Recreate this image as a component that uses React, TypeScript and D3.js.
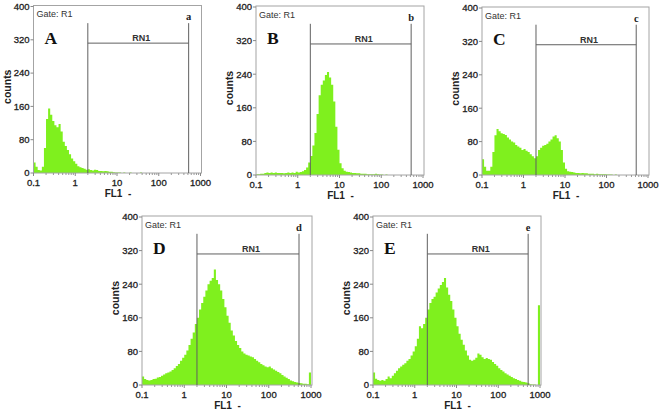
import React from 'react';
import * as d3 from 'd3';

// ---- data (counts per 1/20-decade channel group, 0.1 .. 1000) ----
const BINS_PER_DECADE = 20;
const xTicks = [0.1, 1, 10, 100, 1000];
const xTickLabels = ['0.1', '1', '10', '100', '1000'];
const yTicks = [0, 80, 160, 240, 320, 400];
const gateRange = [2, 520];
const gateTop = 360;
const gateBar = 312;
const panelLetters = ['A', 'B', 'C', 'D', 'E'];
const gateLetters = ['a', 'b', 'c', 'd', 'e'];

const countsA = [
  25, 15, 7, 6, 15, 60, 130, 155, 140, 125,
  115, 110, 118, 100, 75, 65, 55, 45, 35, 28,
  22, 16, 14, 12, 10, 8, 9, 7, 6, 8,
  7, 5, 5, 4, 5, 4, 3, 3, 2, 1,
  1, 1, 0, 1, 0, 0, 1, 0, 0, 0,
  0, 1, 0, 0, 0, 0, 0, 0, 0, 0,
  0, 0, 0, 0, 0, 0, 0, 0, 0, 0,
  0, 0, 0, 0, 0, 0, 0, 0, 0, 0,
];
const countsB = [
  2, 2, 3, 3, 5, 6, 5, 6, 5, 6,
  5, 5, 5, 4, 5, 6, 5, 6, 5, 8,
  6, 7, 9, 12, 18, 30, 45, 70, 100, 145,
  190, 215, 225, 238, 245, 232, 215, 175, 115, 60,
  28, 16, 10, 8, 7, 6, 5, 5, 4, 4,
  3, 3, 3, 2, 2, 2, 2, 3, 2, 1,
  1, 0, 1, 0, 0, 0, 0, 0, 0, 0,
  0, 0, 0, 0, 0, 0, 0, 0, 0, 0,
];
const countsC = [
  38, 20, 10, 10, 20, 55, 95, 110, 105, 100,
  98, 96, 90, 85, 80, 78, 72, 68, 65, 60,
  62, 58, 55, 50, 45, 40, 45, 60, 65, 70,
  72, 75, 80, 85, 92, 95, 88, 80, 60, 30,
  15, 9, 8, 7, 6, 5, 5, 4, 5, 4,
  4, 3, 3, 3, 2, 3, 2, 2, 2, 2,
  1, 1, 1, 0, 1, 0, 0, 0, 0, 0,
  0, 0, 0, 0, 0, 0, 0, 0, 0, 0,
];
const countsD = [
  20, 14, 12, 11, 12, 14, 15, 18, 19, 22,
  25, 28, 30, 32, 36, 40, 45, 50, 58, 65,
  72, 82, 95, 110, 125, 145, 160, 180, 195, 210,
  225, 240, 248, 255, 275, 250, 240, 225, 205, 185,
  165, 148, 130, 118, 105, 95, 88, 80, 75, 72,
  70, 68, 66, 62, 58, 54, 50, 47, 44, 42,
  44, 40, 37, 34, 31, 28, 24, 20, 17, 14,
  11, 9, 7, 6, 5, 4, 3, 3, 2, 30,
];
const countsE = [
  30, 15, 12, 10, 12, 10, 14, 20, 16, 22,
  28, 34, 40, 44, 48, 52, 58, 62, 70, 80,
  92, 110, 140, 135, 145, 160, 180, 195, 205, 210,
  220, 230, 238, 245, 255, 232, 215, 200, 180, 160,
  140, 122, 108, 96, 82, 70, 60, 58, 60, 65,
  75, 72, 66, 62, 64, 62, 60, 55, 50, 46,
  40, 36, 32, 28, 25, 22, 19, 16, 14, 12,
  10, 8, 7, 6, 4, 2, 1, 1, 0, 190,
];

// ---- layout ----
const layouts = [
  { x0: 33.5, x1: 200.5, yTop: 6.5, yBase: 173 },
  { x0: 256, x1: 423, yTop: 7, yBase: 175 },
  { x0: 482, x1: 648, yTop: 8, yBase: 175 },
  { x0: 142, x1: 311, yTop: 217, yBase: 385 },
  { x0: 373, x1: 540, yTop: 217, yBase: 385 },
];

const GREEN = '#7ff01e';
const SANS = "'Liberation Sans', Arial, sans-serif";
const SERIF = "'Liberation Serif', 'Times New Roman', serif";

function Panel({ L, counts, letter, gateLetter }: any) {
  const x = d3.scaleLog().domain([0.1, 1000]).range([L.x0, L.x1]);
  const y = d3.scaleLinear().domain([0, 400]).range([L.yBase, L.yTop]);
  const pts: [number, number][] = counts.map((c: number, i: number) => [
    0.1 * Math.pow(10, i / BINS_PER_DECADE),
    c,
  ]);
  pts.push([0.1 * Math.pow(10, counts.length / BINS_PER_DECADE), counts[counts.length - 1]]);
  const area = d3
    .area<[number, number]>()
    .x((d) => x(d[0]))
    .y0(L.yBase)
    .y1((d) => y(d[1]))
    .curve(d3.curveStepAfter);

  const minor: number[] = [];
  [0.1, 1, 10, 100].forEach((d) => {
    for (let k = 2; k <= 9; k++) minor.push(d * k);
  });

  const gx0 = x(gateRange[0]);
  const gx1 = x(gateRange[1]);
  const midY = (L.yTop + L.yBase) / 2 - 3;

  return (
    <g>
      <path d={area(pts) || ''} fill={GREEN} stroke="none" />
      {/* frame */}
      <rect
        x={L.x0}
        y={L.yTop - 1}
        width={L.x1 - L.x0 + 1}
        height={L.yBase - L.yTop + 1}
        fill="none"
        stroke="#a4a4a4"
        strokeWidth={1}
      />
      {/* y ticks */}
      {yTicks.map((t) => (
        <g key={'y' + t}>
          <line x1={L.x0 - 3} x2={L.x0} y1={y(t)} y2={y(t)} stroke="#888" />
          <text
            x={L.x0 - 4}
            y={y(t)}
            dy="0.35em"
            textAnchor="end"
            fontSize={9.5}
            fontFamily={SANS}
            fill="#222"
            stroke="#222"
            strokeWidth={0.3}
          >
            {t}
          </text>
        </g>
      ))}
      {/* x ticks */}
      {minor.map((t, i) => (
        <line key={'m' + i} x1={x(t)} x2={x(t)} y1={L.yBase} y2={L.yBase + 2} stroke="#999" />
      ))}
      {xTicks.map((t, i) => (
        <g key={'x' + i}>
          <line x1={x(t)} x2={x(t)} y1={L.yBase} y2={L.yBase + 3} stroke="#888" />
          <text
            x={x(t)}
            y={L.yBase + 13.4}
            textAnchor="middle"
            fontSize={9.5}
            fontFamily={SANS}
            fill="#222"
            stroke="#222"
            strokeWidth={0.3}
          >
            {xTickLabels[i]}
          </text>
        </g>
      ))}
      <text
        x={x(10) + 1}
        y={L.yBase + 23.5}
        textAnchor="middle"
        fontSize={10}
        fontWeight="bold"
        fontFamily={SANS}
        fill="#222"
        xmlSpace="preserve"
      >
        {'FL1  -'}
      </text>
      <text
        transform={`translate(${L.x0 - 23},${midY}) rotate(-90)`}
        textAnchor="middle"
        fontSize={10.5}
        fontWeight="bold"
        fontFamily={SANS}
        fill="#222"
      >
        counts
      </text>
      <text x={L.x0 + 3} y={L.yTop + 10.5} fontSize={9} fontFamily={SANS} fill="#333">
        Gate: R1
      </text>
      {/* gate marker */}
      <line x1={gx0} x2={gx0} y1={y(gateTop)} y2={L.yBase} stroke="#606060" strokeWidth={1} />
      <line x1={gx1} x2={gx1} y1={y(gateTop)} y2={L.yBase} stroke="#606060" strokeWidth={1} />
      <line x1={gx0} x2={gx1} y1={y(gateBar)} y2={y(gateBar)} stroke="#606060" strokeWidth={1} />
      <text
        x={(gx0 + gx1) / 2 + 3}
        y={y(gateBar) - 2}
        textAnchor="middle"
        fontSize={9}
        fontWeight="bold"
        fontFamily={SANS}
        fill="#333"
      >
        RN1
      </text>
      <text
        x={gx1}
        y={y(gateTop) - 3}
        textAnchor="middle"
        fontSize={10.5}
        fontWeight="bold"
        fontFamily={SERIF}
        fill="#222"
      >
        {gateLetter}
      </text>
      <text
        x={L.x0 + 11}
        y={L.yTop + 37}
        fontSize={17.5}
        fontWeight="bold"
        fontFamily={SERIF}
        fill="#111"
      >
        {letter}
      </text>
    </g>
  );
}

export default function App() {
  const data = [countsA, countsB, countsC, countsD, countsE];
  return (
    <svg
      width={661}
      height={410}
      style={{ position: 'absolute', left: 0, top: 0, background: '#fff' }}
    >
      {layouts.map((L, p) => (
        <Panel
          key={p}
          L={L}
          counts={data[p]}
          letter={panelLetters[p]}
          gateLetter={gateLetters[p]}
        />
      ))}
    </svg>
  );
}
